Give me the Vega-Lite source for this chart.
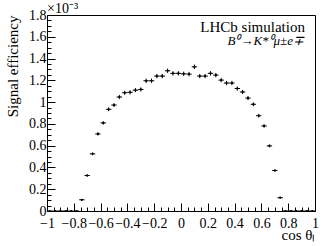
{
  "$schema": "https://vega.github.io/schema/vega-lite/v6.json",
  "width": 268,
  "height": 196,
  "autosize": {"type": "none"},
  "padding": {"left": 47, "top": 15, "right": 17, "bottom": 35},
  "background": "white",
  "config": {
    "font": "Liberation Serif",
    "view": {"stroke": "black", "strokeWidth": 1},
    "axis": {
      "grid": false,
      "domainColor": "black",
      "tickColor": "black",
      "labelColor": "black",
      "titleColor": "black",
      "labelFont": "Liberation Serif",
      "titleFont": "Liberation Serif",
      "labelFontSize": 14,
      "titleFontSize": 15,
      "titleFontWeight": "normal",
      "labelOverlap": false,
      "labelFlush": false,
      "labelBound": false,
      "tickWidth": 1,
      "domainWidth": 1
    }
  },
  "data": {"values": [
    {"x": -0.98, "y": 0, "e": 0, "ex": 0.02},
    {"x": -0.94, "y": 0, "e": 0, "ex": 0.02},
    {"x": -0.90, "y": 0, "e": 0, "ex": 0.02},
    {"x": -0.86, "y": 0, "e": 0, "ex": 0.02},
    {"x": -0.82, "y": 0, "e": 0, "ex": 0.02},
    {"x": -0.78, "y": 0, "e": 0, "ex": 0.02},
    {"x": -0.74, "y": 0.103, "e": 0.006, "ex": 0.02},
    {"x": -0.70, "y": 0.326, "e": 0.011, "ex": 0.02},
    {"x": -0.66, "y": 0.525, "e": 0.013, "ex": 0.02},
    {"x": -0.62, "y": 0.708, "e": 0.015, "ex": 0.02},
    {"x": -0.58, "y": 0.809, "e": 0.016, "ex": 0.02},
    {"x": -0.54, "y": 0.934, "e": 0.018, "ex": 0.02},
    {"x": -0.50, "y": 0.973, "e": 0.018, "ex": 0.02},
    {"x": -0.46, "y": 1.047, "e": 0.019, "ex": 0.02},
    {"x": -0.42, "y": 1.086, "e": 0.019, "ex": 0.02},
    {"x": -0.38, "y": 1.090, "e": 0.019, "ex": 0.02},
    {"x": -0.34, "y": 1.110, "e": 0.019, "ex": 0.02},
    {"x": -0.30, "y": 1.116, "e": 0.019, "ex": 0.02},
    {"x": -0.26, "y": 1.196, "e": 0.020, "ex": 0.02},
    {"x": -0.22, "y": 1.196, "e": 0.020, "ex": 0.02},
    {"x": -0.18, "y": 1.239, "e": 0.020, "ex": 0.02},
    {"x": -0.14, "y": 1.239, "e": 0.020, "ex": 0.02},
    {"x": -0.10, "y": 1.288, "e": 0.020, "ex": 0.02},
    {"x": -0.06, "y": 1.264, "e": 0.020, "ex": 0.02},
    {"x": -0.02, "y": 1.264, "e": 0.020, "ex": 0.02},
    {"x": 0.02, "y": 1.260, "e": 0.020, "ex": 0.02},
    {"x": 0.06, "y": 1.257, "e": 0.020, "ex": 0.02},
    {"x": 0.10, "y": 1.324, "e": 0.021, "ex": 0.02},
    {"x": 0.14, "y": 1.239, "e": 0.020, "ex": 0.02},
    {"x": 0.18, "y": 1.239, "e": 0.020, "ex": 0.02},
    {"x": 0.22, "y": 1.264, "e": 0.020, "ex": 0.02},
    {"x": 0.26, "y": 1.248, "e": 0.020, "ex": 0.02},
    {"x": 0.30, "y": 1.202, "e": 0.020, "ex": 0.02},
    {"x": 0.34, "y": 1.175, "e": 0.020, "ex": 0.02},
    {"x": 0.38, "y": 1.175, "e": 0.020, "ex": 0.02},
    {"x": 0.42, "y": 1.125, "e": 0.019, "ex": 0.02},
    {"x": 0.46, "y": 1.093, "e": 0.019, "ex": 0.02},
    {"x": 0.50, "y": 1.037, "e": 0.019, "ex": 0.02},
    {"x": 0.54, "y": 0.980, "e": 0.018, "ex": 0.02},
    {"x": 0.58, "y": 0.875, "e": 0.017, "ex": 0.02},
    {"x": 0.62, "y": 0.781, "e": 0.016, "ex": 0.02},
    {"x": 0.66, "y": 0.598, "e": 0.014, "ex": 0.02},
    {"x": 0.70, "y": 0.372, "e": 0.011, "ex": 0.02},
    {"x": 0.74, "y": 0.122, "e": 0.006, "ex": 0.02},
    {"x": 0.78, "y": 0, "e": 0, "ex": 0.02},
    {"x": 0.82, "y": 0, "e": 0, "ex": 0.02},
    {"x": 0.86, "y": 0, "e": 0, "ex": 0.02},
    {"x": 0.90, "y": 0, "e": 0, "ex": 0.02},
    {"x": 0.94, "y": 0, "e": 0, "ex": 0.02},
    {"x": 0.98, "y": 0, "e": 0, "ex": 0.02}
  ]},
  "layer": [
    {
      "mark": {"type": "point", "filled": true, "size": 5, "color": "black", "opacity": 1},
      "encoding": {
        "x": {
          "field": "x", "type": "quantitative", "title": "cos θₗ",
          "scale": {"domain": [-1, 1], "nice": false, "zero": false},
          "axis": {
            "values": [-1,-0.95,-0.9,-0.85,-0.8,-0.75,-0.7,-0.65,-0.6,-0.55,-0.5,-0.45,-0.4,-0.35,-0.3,-0.25,-0.2,-0.15,-0.1,-0.05,0,0.05,0.1,0.15,0.2,0.25,0.3,0.35,0.4,0.45,0.5,0.55,0.6,0.65,0.7,0.75,0.8,0.85,0.9,0.95,1],
            "tickCount": 200,
            "labelExpr": "abs(datum.value*5 - round(datum.value*5)) < 0.001 ? format(datum.value, '.1~f') : ''",
            "tickSize": {"condition": {"test": "abs(datum.value*5 - round(datum.value*5)) < 0.001", "value": -8}, "value": -4},
            "labelOverlap": false,
            "labelFlush": false,
            "labelPadding": 13,
            "titleX": 268,
            "titleY": 28,
            "titleAlign": "right",
            "titleBaseline": "alphabetic"
          }
        },
        "y": {
          "field": "y", "type": "quantitative", "title": "Signal efficiency",
          "scale": {"domain": [0, 1.8], "nice": false},
          "axis": {
            "values": [0,0.05,0.1,0.15,0.2,0.25,0.3,0.35,0.4,0.45,0.5,0.55,0.6,0.65,0.7,0.75,0.8,0.85,0.9,0.95,1,1.05,1.1,1.15,1.2,1.25,1.3,1.35,1.4,1.45,1.5,1.55,1.6,1.65,1.7,1.75,1.8],
            "tickCount": 200,
            "labelExpr": "abs(datum.value*5 - round(datum.value*5)) < 0.001 ? format(datum.value, '.1~f') : ''",
            "tickSize": {"condition": {"test": "abs(datum.value*5 - round(datum.value*5)) < 0.001", "value": -8}, "value": -4},
            "labelOverlap": false,
            "labelFlush": false,
            "labelPadding": 9,
            "titleX": -30,
            "titleY": 0,
            "titleAngle": 270,
            "titleAlign": "right",
            "titleBaseline": "alphabetic"
          }
        }
      }
    },
    {
      "mark": {"type": "errorbar", "color": "black", "thickness": 1},
      "encoding": {
        "x": {"field": "x", "type": "quantitative", "title": "cos θₗ"},
        "y": {"field": "y", "type": "quantitative", "title": "Signal efficiency"},
        "yError": {"field": "e"}
      }
    },
    {
      "mark": {"type": "errorbar", "color": "black", "thickness": 1},
      "encoding": {
        "x": {"field": "x", "type": "quantitative", "title": "cos θₗ"},
        "y": {"field": "y", "type": "quantitative", "title": "Signal efficiency"},
        "xError": {"field": "ex"}
      }
    },
    {
      "data": {"values": [{"t": "LHCb simulation", "px": 0.925, "py": 1.642}]},
      "mark": {"type": "text", "align": "right", "baseline": "alphabetic", "fontSize": 15, "font": "Liberation Serif", "color": "black"},
      "encoding": {
        "x": {"field": "px", "type": "quantitative", "title": "cos θₗ"},
        "y": {"field": "py", "type": "quantitative", "title": "Signal efficiency"},
        "text": {"field": "t"}
      }
    },
    {
      "data": {"values": [{"t": "B⁰→K*⁰μ±e∓", "px": 0.918, "py": 1.523}]},
      "mark": {"type": "text", "align": "right", "baseline": "alphabetic", "fontSize": 13, "fontStyle": "italic", "font": "Liberation Serif", "color": "black"},
      "encoding": {
        "x": {"field": "px", "type": "quantitative", "title": "cos θₗ"},
        "y": {"field": "py", "type": "quantitative", "title": "Signal efficiency"},
        "text": {"field": "t"}
      }
    },
    {
      "data": {"values": [{"t": "×10⁻³", "px": -1, "py": 1.8}]},
      "mark": {"type": "text", "align": "left", "baseline": "alphabetic", "fontSize": 14, "dy": -2, "font": "Liberation Serif", "color": "black"},
      "encoding": {
        "x": {"field": "px", "type": "quantitative", "title": "cos θₗ"},
        "y": {"field": "py", "type": "quantitative", "title": "Signal efficiency"},
        "text": {"field": "t"}
      }
    }
  ]
}
